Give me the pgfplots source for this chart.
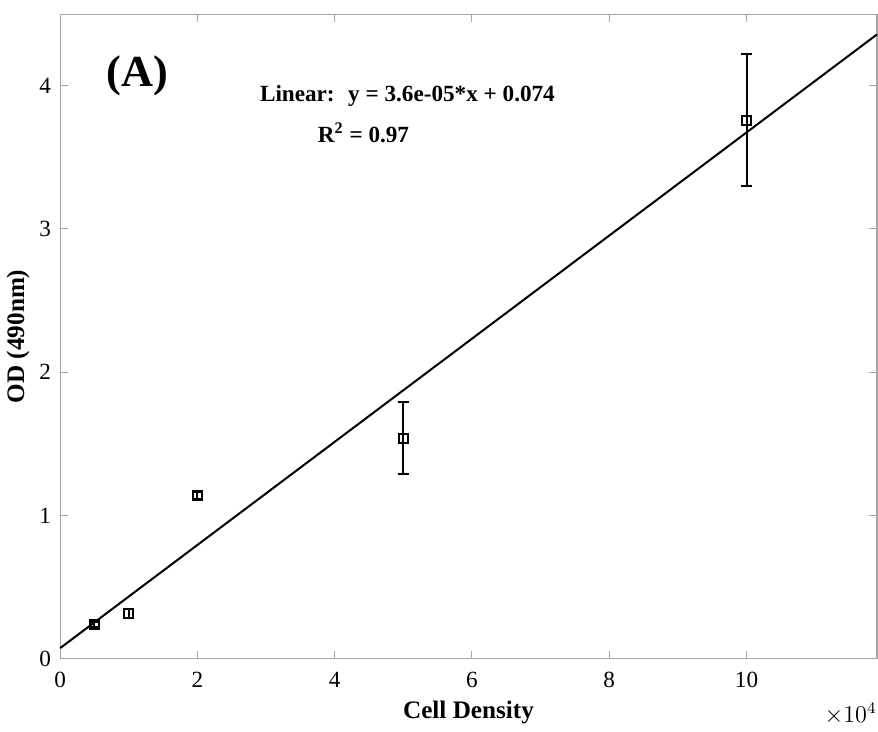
\documentclass[border=0pt]{standalone}
\usepackage{fontspec}
\setmainfont{Liberation Serif}
\usepackage{pgfplots}
\usepackage{pgfplotstable}
\pgfplotsset{compat=1.18}

\pgfplotstableread{
x      y     err
5000   0.239 0.02
10000  0.316 0.03
20000  1.139 0.025
50000  1.540 0.25
100000 3.760 0.46
}\celldata

\begin{document}
\begin{tikzpicture}
\begin{axis}[
    scale only axis,
    width=405.5pt, height=320pt,
    xmin=0, xmax=119000,
    ymin=0, ymax=4.5,
    scaled x ticks=false,
    xtick={0,20000,40000,60000,80000,100000},
    xticklabels={0,2,4,6,8,10},
    ytick={0,1,2,3,4},
    tick align=inside,
    major tick length=4pt,
    axis line style={gray!70, line width=0.5pt},
    every tick/.style={gray!70, line width=0.5pt},
    tick label style={font=\fontsize{11.5}{12}\selectfont, black},
    xticklabel style={yshift=-3pt},
    yticklabel style={xshift=-1pt},
    /pgf/number format/assume math mode=true,
    xlabel={\textbf{Cell Density}},
    ylabel={\textbf{OD (490nm)}},
    label style={font=\fontsize{12.5}{14}\selectfont},
    xlabel style={yshift=0pt},
    ylabel style={yshift=-2pt},
    clip=false,
]
\addplot[black, line width=1pt, forget plot] coordinates {(0,0.074) (119000,4.358)};
\addplot[black, line width=1pt, only marks, mark=square, mark size=2.2pt,
    error bars/.cd, y dir=both, y explicit,
    error bar style={line width=1pt},
    error mark options={rotate=90, mark size=2.8pt, line width=1pt}]
    table[x=x, y=y, y error=err] {\celldata};
\node[font=\fontsize{22}{24}\selectfont\bfseries] at (axis cs:11240,4.07) {(A)};
\node[font=\fontsize{11.5}{13}\selectfont\bfseries] at (axis cs:50600,3.93) {Linear:~ y = 3.6e-05*x + 0.074};
\node[font=\fontsize{11.5}{13}\selectfont\bfseries] at (axis cs:44200,3.67) {R$^{\mathbf{2}}$ = 0.97};
\node[anchor=north east, font=\fontsize{11.5}{12}\selectfont, inner sep=0pt] at (rel axis cs:1,0) [yshift=-22pt] {$\times 10^{4}$};
\path (rel axis cs:0,1) ++(0,7pt) coordinate (topspace);
\end{axis}
\end{tikzpicture}
\end{document}
